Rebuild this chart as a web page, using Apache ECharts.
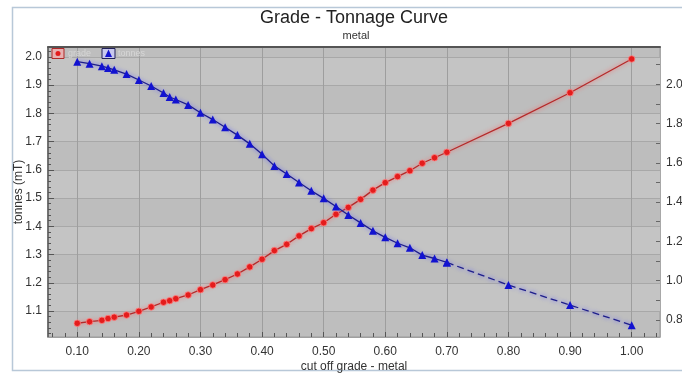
<!DOCTYPE html>
<html><head><meta charset="utf-8">
<script src="https://cdn.jsdelivr.net/npm/echarts@6/dist/echarts.min.js"></script>
<style>html,body{margin:0;padding:0;background:#fff}#c{width:682px;height:374px}</style>
</head><body><div id="c"></div>
<script>
// ---- data ----
const cutoff = [0.10,0.12,0.14,0.15,0.16,0.18,0.20,0.22,0.24,0.25,0.26,0.28,0.30,0.32,0.34,0.36,0.38,0.40,0.42,0.44,0.46,0.48,0.50,0.52,0.54,0.56,0.58,0.60,0.62,0.64,0.66,0.68,0.70,0.80,0.90,1.00];
const tonnes = [1.983,1.976,1.967,1.961,1.954,1.939,1.918,1.897,1.872,1.858,1.849,1.830,1.802,1.778,1.751,1.723,1.692,1.655,1.614,1.585,1.555,1.526,1.499,1.470,1.440,1.412,1.384,1.361,1.340,1.324,1.298,1.286,1.272,1.192,1.121,1.050];
const grade = [0.783,0.791,0.798,0.807,0.814,0.825,0.844,0.866,0.890,0.898,0.908,0.927,0.954,0.978,1.005,1.034,1.070,1.109,1.153,1.185,1.228,1.265,1.295,1.338,1.373,1.414,1.461,1.499,1.530,1.560,1.598,1.626,1.654,1.801,1.957,2.129];
const xTickLabels = [0.10,0.20,0.30,0.40,0.50,0.60,0.70,0.80,0.90,1.00];
const leftTickLabels = [1.1,1.2,1.3,1.4,1.5,1.6,1.7,1.8,1.9,2.0];
const rightTickLabels = [0.8,1.0,1.2,1.4,1.6,1.8,2.0];
const dashedFrom = 0.70;

// axis ranges
const X_MIN = 0.0525, X_MAX = 1.046;
const L_MIN = 1.008, L_MAX = 2.035;
const R_MIN = 0.713, R_MAX = 2.19;

function steps(a, b, s) { const out = []; for (let v = a; v <= b + 1e-9; v += s) out.push(Math.round(v * 1000) / 1000); return out; }
const xMinor = steps(0.06, 1.04, 0.02);
const leftMinor = steps(1.02, 2.02, 0.02);
const rightMinor = steps(0.8, 2.1, 0.1);

const FONT = 'Liberation Sans, Arial, sans-serif';
const lab = { fontFamily: FONT, fontSize: 12, color: '#333' };

const splitIdx = cutoff.indexOf(dashedFrom);
const pts = (ys, a, b) => cutoff.slice(a, b).map((x, i) => [x, ys[a + i]]);

const chart = echarts.init(document.getElementById('c'), null, { renderer: 'canvas' });
chart.setOption({
  animation: false,
  backgroundColor: '#ffffff',
  grid: { left: 48, right: 22, top: 47, bottom: 37, show: true, backgroundColor: '#bebebe', borderColor: '#9a9a9a', borderWidth: 1, outerBoundsMode: 'none' },
  xAxis: [
    { type: 'value', min: X_MIN, max: X_MAX, position: 'bottom',
      axisLine: { show: false },
      axisTick: { show: true, inside: true, length: 5, customValues: xTickLabels, lineStyle: { color: '#555' } },
      axisLabel: Object.assign({ customValues: xTickLabels, formatter: v => v.toFixed(2), margin: 9 }, lab),
      splitLine: { show: true, lineStyle: { color: '#9e9e9e', width: 1 } },
      name: 'cut off grade - metal', nameLocation: 'middle', nameGap: 24, nameMoveOverlap: false, nameTextStyle: lab },
    { type: 'value', min: X_MIN, max: X_MAX, position: 'bottom',
      axisLine: { show: true, lineStyle: { color: '#a0a0a0' } },
      axisTick: { show: true, inside: true, length: 4, customValues: xMinor, lineStyle: { color: '#555' } },
      axisLabel: { show: false }, splitLine: { show: false } },
    { type: 'value', min: X_MIN, max: X_MAX, position: 'top',
      axisLine: { show: true, lineStyle: { color: '#555', width: 2 } },
      axisTick: { show: false }, axisLabel: { show: false }, splitLine: { show: false } }
  ],
  yAxis: [
    { type: 'value', min: L_MIN, max: L_MAX, position: 'left',
      axisLine: { show: true, lineStyle: { color: '#555', width: 1.5 } },
      axisTick: { show: true, inside: true, length: 6, customValues: leftTickLabels, lineStyle: { color: '#555' } },
      axisLabel: Object.assign({ customValues: leftTickLabels, formatter: v => v.toFixed(1), margin: 6 }, lab),
      splitLine: { show: true, lineStyle: { color: '#a8a8a8', width: 1 } },
      splitArea: { show: true, areaStyle: { color: ['#c4c4c4', '#bdbdbd'] } },
      name: 'tonnes (mT)', nameLocation: 'middle', nameGap: 23, nameMoveOverlap: false, nameTextStyle: lab },
    { type: 'value', min: R_MIN, max: R_MAX, position: 'right',
      axisLine: { show: true, lineStyle: { color: '#a8a8a8' } },
      axisTick: { show: true, inside: true, length: 4, customValues: rightMinor, lineStyle: { color: '#666' } },
      axisLabel: Object.assign({ customValues: rightTickLabels, formatter: v => v.toFixed(1), margin: 6 }, lab),
      splitLine: { show: false } },
    { type: 'value', min: L_MIN, max: L_MAX, position: 'left',
      axisLine: { show: false },
      axisTick: { show: true, inside: true, length: 3, customValues: leftMinor, lineStyle: { color: '#555' } },
      axisLabel: { show: false }, splitLine: { show: false } }
  ],
  series: [
    { name: 'grade', type: 'line', xAxisIndex: 0, yAxisIndex: 1, data: pts(grade, 0, cutoff.length),
      symbol: 'circle', symbolSize: 6.5, z: 3,
      itemStyle: { color: '#e41c1c', borderColor: 'rgba(255,130,130,0.8)', borderWidth: 1 },
      lineStyle: { color: '#b42a2a', width: 1.3, shadowColor: 'rgba(255,90,90,1)', shadowBlur: 4 } },
    { name: 'tonnes', type: 'line', xAxisIndex: 0, yAxisIndex: 0, data: pts(tonnes, 0, splitIdx + 1),
      symbol: 'triangle', symbolSize: 8, z: 4,
      itemStyle: { color: '#1212d0' },
      lineStyle: { color: '#1e1e8a', width: 1.3, shadowColor: 'rgba(90,90,255,1)', shadowBlur: 4 } },
    { name: 'tonnes', type: 'line', xAxisIndex: 0, yAxisIndex: 0, data: pts(tonnes, splitIdx, cutoff.length),
      symbol: 'triangle', symbolSize: 8, z: 4,
      itemStyle: { color: '#1212d0' },
      lineStyle: { color: '#1e1e8a', width: 1.3, type: [7, 4], shadowColor: 'rgba(90,90,255,1)', shadowBlur: 4 } }
  ],
  graphic: [
    { type: 'rect', shape: { x: 12.5, y: 7.5, width: 700, height: 363 }, style: { fill: 'none', stroke: '#b8c8d8', lineWidth: 1.5 }, z: -10 },
    { type: 'text', x: 354, y: 18, style: { text: 'Grade - Tonnage Curve', font: '18px ' + FONT, fill: '#222', align: 'center', verticalAlign: 'middle' }, z: 10 },
    { type: 'text', x: 356, y: 36, style: { text: 'metal', font: '11px ' + FONT, fill: '#333', align: 'center', verticalAlign: 'middle' }, z: 10 },
    { type: 'rect', shape: { x: 52, y: 48.5, width: 12, height: 10 }, style: { fill: '#e8b0b0', stroke: '#b02828', lineWidth: 1 }, z: 20 },
    { type: 'circle', shape: { cx: 58, cy: 53.5, r: 2.5 }, style: { fill: '#e41c1c' }, z: 21 },
    { type: 'text', x: 68, y: 53.5, style: { text: 'grade', font: '9px ' + FONT, fill: '#d6d6d6', verticalAlign: 'middle' }, z: 20 },
    { type: 'rect', shape: { x: 102, y: 48.5, width: 13, height: 10 }, style: { fill: '#c8c8ee', stroke: '#20205a', lineWidth: 1 }, z: 20 },
    { type: 'polygon', shape: { points: [[108.5, 49.5], [112, 57], [105, 57]] }, style: { fill: '#1212d0' }, z: 21 },
    { type: 'text', x: 118, y: 53.5, style: { text: 'tonnes', font: '9px ' + FONT, fill: '#d6d6d6', verticalAlign: 'middle' }, z: 20 }
  ]
});
</script>
</body></html>
